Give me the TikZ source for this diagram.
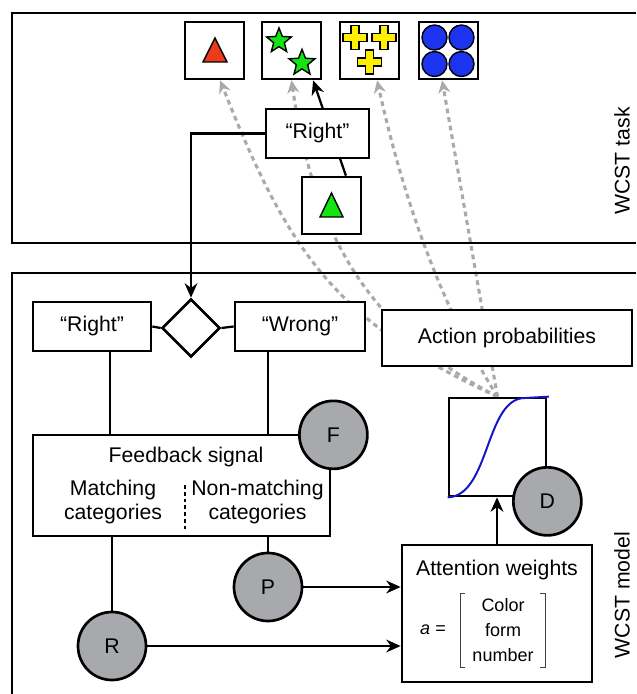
\documentclass[tikz,border=0pt]{standalone}
\usepackage{fontspec}
\setmainfont{Liberation Sans}
\usetikzlibrary{arrows.meta,shapes.geometric,backgrounds}

\definecolor{paramgray}{RGB}{167,169,172}
\definecolor{probgray}{RGB}{170,170,170}
\definecolor{cardred}{RGB}{238,58,28}
\definecolor{cardgreen}{RGB}{20,228,20}
\definecolor{cardyellow}{RGB}{255,238,0}
\definecolor{cardblue}{RGB}{28,52,240}
\definecolor{sigblue}{RGB}{20,20,200}

\tikzset{
  box/.style={draw, line width=1.9pt, fill=white, inner sep=0pt},
  card/.style={box, minimum width=1.475cm, minimum height=1.425cm},
  param/.style={circle, draw, line width=1.9pt, fill=paramgray, minimum size=1.7cm, inner sep=0pt},
  frame/.style={line width=1.9pt},
  link/.style={line width=1.6pt},
  arr/.style={link, -{Stealth[length=0.36cm,width=0.32cm]}},
  prob/.style={draw=probgray, line width=2.2pt, dash pattern=on 3.4pt off 2.8pt,
    -{Stealth[length=0.32cm,width=0.3cm]}},
  plus/.pic={\draw[line width=1pt, fill=cardyellow]
    (-4,-12) -- (4,-12) -- (4,-4) -- (12,-4) -- (12,4) -- (4,4) -- (4,12)
    -- (-4,12) -- (-4,4) -- (-12,4) -- (-12,-4) -- (-4,-4) -- cycle;}
}

\begin{document}
\begin{tikzpicture}[x=0.025cm, y=-0.025cm, font=\fontsize{15.1}{17.7}\selectfont]
  \useasboundingbox (0,0) rectangle (636,694);

  % Draw the two frames
  \draw[frame] (636,13) -- (12,13) -- (12,243) -- (636,243);
  \draw[frame] (636,273) -- (12,273) -- (12,694);
  \node[rotate=90] (tasklbl) at (622,161) {WCST task};
  \node[rotate=90] (modellbl) at (622,595) {WCST model};

  % Cards of the task
  \node[card] (card1) at (214.5,50.5) {};
  \node[card] (card2) at (291.5,50.5) {};
  \node[card] (card3) at (369.5,50.5) {};
  \node[card] (card4) at (448.5,50.5) {};
  \node[card] (stim) at (331.5,205.5) {};

  % Symbols on the cards
  \draw[line width=1pt, fill=cardred] (203,62) -- (227,62) -- (215,38) -- cycle;
  \node[star, star points=5, star point ratio=2.3, draw, line width=1pt, fill=cardgreen,
    minimum size=0.65cm, inner sep=0pt] (star1) at (279,41) {};
  \node[star, star points=5, star point ratio=2.3, draw, line width=1pt, fill=cardgreen,
    minimum size=0.68cm, inner sep=0pt] (star2) at (302,63) {};
  \pic at (355,37.5) {plus};
  \pic at (384,37.5) {plus};
  \pic at (369.5,62) {plus};
  \foreach \cx/\cy in {434.5/37.5, 461.5/37.5, 434.5/64, 461.5/64}
    \draw[line width=1pt, fill=cardblue] (\cx,\cy) circle (12.5);
  \draw[line width=1pt, fill=cardgreen] (320,217) -- (343,217) -- (331.5,193) -- cycle;

  \node[box, minimum width=2.575cm, minimum height=1.225cm] (rightT) at (317.5,133.5) {“Right”};

  % Feedback part of the model
  \node[diamond, draw, line width=1.9pt, minimum width=1.45cm, minimum height=1.45cm,
    inner sep=0pt] (dia) at (191,328) {};
  \node[box, minimum width=2.95cm, minimum height=1.225cm] (rightM) at (92,326.5) {“Right”};
  \node[box, minimum width=3.25cm, minimum height=1.225cm] (wrong) at (300,326.5) {“Wrong”};
  \node[box, minimum width=7.425cm, minimum height=2.525cm] (fb) at (181.5,485.5) {};
  \node (fbtitle) at (186,457) {Feedback signal};
  \node[align=center] (match) at (113,502) {Matching\\categories};
  \node[align=center] (nonmatch) at (257.5,502) {Non-matching\\categories};
  \draw[link, dash pattern=on 2.8pt off 2pt] (185,485) -- (185,532);
  \node[param] (F) at ([xshift=0.05cm,yshift=-0.03cm]fb.north east) {F};
  \node[param] (P) at (268,587) {P};
  \node[param] (R) at (112,646) {R};

  % Action part of the model
  \node[box, minimum width=6.25cm, minimum height=1.4cm] (act) at (507,338) {Action probabilities};
  \node[box, minimum width=2.425cm, minimum height=2.45cm] (sig) at (497.5,447) {};
  \draw[sigblue, line width=1.4pt] (sig.south west) .. controls (490,496) and (485,398) .. (525,398)
    -- ([xshift=0.04cm]sig.north east);
  \node[param] (D) at ([yshift=-0.1cm]sig.south east) {D};
  \node[box, minimum width=4.75cm, minimum height=3.425cm] (attn) at (497,613.5) {};
  \node (attntitle) at (497,570) {Attention weights};
  \node[font=\fontsize{12.8}{17.7}\selectfont] (aeq) at (433,630) {\textit{a} =};
  \node[align=center, font=\fontsize{12.8}{17.7}\selectfont] (vec) at (503,630) {Color\\form\\number};
  \draw[line width=0.7pt, black!75] (465,593) -- (460,593) -- (460,667) -- (465,667);
  \draw[line width=0.7pt, black!75] (540,593) -- (545,593) -- (545,667) -- (540,667);

  % Connectors
  \draw[arr] (rightT.west) -| (dia.north);
  \draw[link] (rightM.east) -- (dia.west);
  \draw[link] (dia.east) -- (wrong.west);
  \draw[link] ([xshift=0.45cm]rightM.south) -- ([xshift=0.45cm]rightM.south |- fb.north);
  \draw[link] ([xshift=-0.8cm]wrong.south) -- ([xshift=-0.8cm]wrong.south |- fb.north);
  \draw[link] (R.north) -- (R.north |- fb.south);
  \draw[link] (P.north) -- (P.north |- fb.south);
  \draw[arr] (P.east) -- (P.east -| attn.west);
  \draw[arr] (R.east) -- (R.east -| attn.west);
  \draw[arr] (attn.north) -- (attn.north |- sig.south);

  % Choice probabilities to the cards
  \begin{scope}[on background layer]
    \draw[arr] ([xshift=0.36cm]stim.north) -- ([xshift=0.54cm]card2.south);
    \draw[prob] (sig.north) .. controls (334,322) and (287,249) .. ([xshift=0.14cm]card1.south);
    \draw[prob] (sig.north) .. controls (365,328) and (313,230) .. (card2.south);
    \draw[prob] (sig.north) .. controls (438,302) and (401,189) .. ([xshift=0.19cm]card3.south);
    \draw[prob] (sig.north) -- ([xshift=-0.16cm]card4.south);
  \end{scope}
\end{tikzpicture}
\end{document}
